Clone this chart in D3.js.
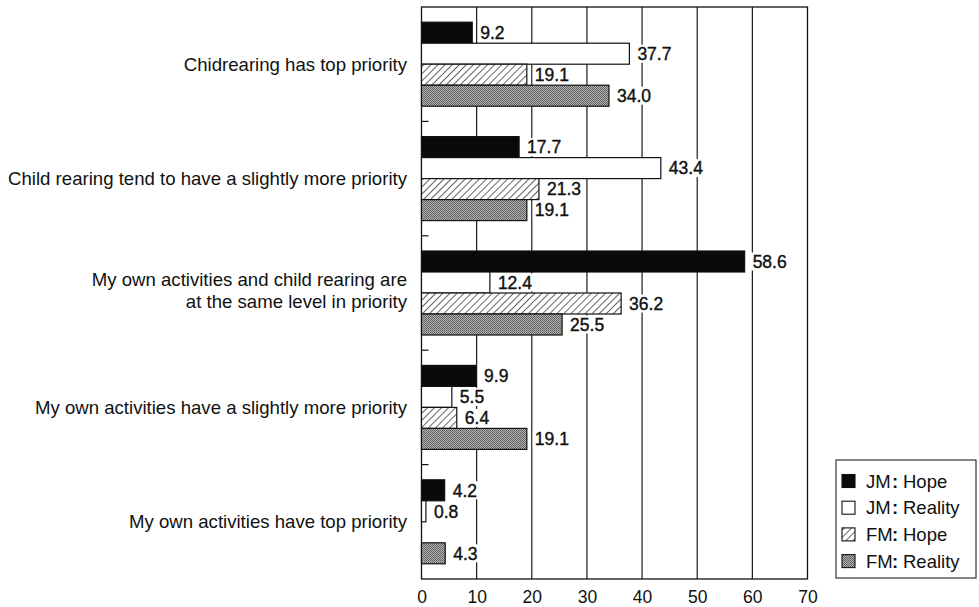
<!DOCTYPE html>
<html>
<head>
<meta charset="utf-8">
<script src="https://cdn.jsdelivr.net/npm/d3@7"></script>
<style>
  body { margin: 0; background: #fff; }
  svg { font-family: "Liberation Sans", Arial, Helvetica, sans-serif; }
</style>
</head>
<body>
<svg width="979" height="607"></svg>
<script>
// chart values
const categories = [
    "Chidrearing has top priority",
    "Child rearing tend to have a slightly more priority",
    "My own activities and child rearing are\nat the same level in priority",
    "My own activities have a slightly more priority",
    "My own activities have top priority"
];
const seriesNames = ["JM：Hope", "JM：Reality", "FM：Hope", "FM：Reality"];
const jmHope = [9.2, 17.7, 58.6, 9.9, 4.2];
const jmReality = [37.7, 43.4, 12.4, 5.5, 0.8];
const fmHope = [19.1, 21.3, 36.2, 6.4, null];
const fmReality = [34.0, 19.1, 25.5, 19.1, 4.3];
const xTicks = [0, 10, 20, 30, 40, 50, 60, 70];

const allSeries = [jmHope, jmReality, fmHope, fmReality];

function init() {
    const svg = d3.select("svg");
    drawDefs(svg);

    const x = d3.scaleLinear().domain([0, 70]).range([421.5, 807.5]);
    const y = d3.scaleBand().domain(categories).range([7, 579]).padding(0);
    const inner = d3.scaleBand().domain(seriesNames)
        .range([0, y.bandwidth()]).paddingInner(0).paddingOuter(0.724);

    drawGrid(svg, x, y);
    drawBars(svg, x, y, inner);
    drawCategoryLabels(svg, y);
    drawLegend(svg);
}

function drawDefs(svg) {
    const defs = svg.append("defs");
    const hatch = defs.append("pattern")
        .attr("id", "hatch")
        .attr("patternUnits", "userSpaceOnUse")
        .attr("width", 5).attr("height", 5)
        .attr("patternTransform", "rotate(45)");
    hatch.append("rect").attr("width", 5).attr("height", 5).attr("fill", "#fff");
    hatch.append("line")
        .attr("x1", 0).attr("y1", 0).attr("x2", 0).attr("y2", 5)
        .attr("stroke", "#111").attr("stroke-width", 1.3);

    // checker stipple for the grey bars
    const dots = defs.append("pattern")
        .attr("id", "stipple")
        .attr("patternUnits", "userSpaceOnUse")
        .attr("width", 2).attr("height", 2);
    dots.append("rect").attr("width", 2).attr("height", 2).attr("fill", "#b2b2b2");
    dots.append("rect").attr("x", 0).attr("y", 0).attr("width", 1).attr("height", 1).attr("fill", "#5a5a5a");
    dots.append("rect").attr("x", 1).attr("y", 1).attr("width", 1).attr("height", 1).attr("fill", "#6a6a6a");
}

const fills = ["#0a0a0a", "#ffffff", "url(#hatch)", "url(#stipple)"];

function drawGrid(svg, x, y) {
    const top = y.range()[0], bottom = y.range()[1];
    svg.append("g")
        .selectAll("line").data(xTicks.slice(1, -1)).enter()
        .append("line")
        .attr("x1", d => x(d)).attr("x2", d => x(d))
        .attr("y1", top).attr("y2", bottom)
        .attr("stroke", "#1a1a1a").attr("stroke-width", 1.2);

    svg.append("rect")
        .attr("x", x(0)).attr("y", top)
        .attr("width", x(70) - x(0)).attr("height", bottom - top)
        .attr("fill", "none").attr("stroke", "#111").attr("stroke-width", 1.3);

    // small ticks between groups on the left axis
    svg.append("g")
        .selectAll("line").data(categories.slice(1)).enter()
        .append("line")
        .attr("x1", x(0)).attr("x2", x(0) + 7)
        .attr("y1", d => y(d)).attr("y2", d => y(d))
        .attr("stroke", "#111").attr("stroke-width", 1.2);

    const axis = svg.append("g")
        .attr("transform", "translate(0," + bottom + ")")
        .call(d3.axisBottom(x).tickValues(xTicks).tickSize(0).tickPadding(11.5));
    axis.select(".domain").remove();
    axis.selectAll("text")
        .attr("font-size", "17.5px")
        .attr("font-family", "\"Liberation Sans\", Arial, sans-serif")
        .attr("fill", "#111");
}

function drawBars(svg, x, y, inner) {
    const rows = [];
    categories.forEach((c, i) => {
        allSeries.forEach((s, j) => {
            if (s[i] !== null) rows.push({ cat: c, name: seriesNames[j], k: j, v: s[i] });
        });
    });

    svg.append("g")
        .selectAll("rect").data(rows).enter()
        .append("rect")
        .attr("x", x(0))
        .attr("y", d => y(d.cat) + inner(d.name))
        .attr("width", d => x(d.v) - x(0))
        .attr("height", inner.bandwidth())
        .attr("fill", d => fills[d.k])
        .attr("stroke", "#111")
        .attr("stroke-width", 1.2);

    const labels = svg.append("g");
    rows.forEach(d => {
        const g = labels.append("g");
        const bg = g.append("rect").attr("fill", "#fff");
        const t = g.append("text")
            .attr("x", x(d.v) + 8)
            .attr("y", y(d.cat) + inner(d.name) + inner.bandwidth() / 2)
            .attr("dy", "0.36em")
            .attr("font-size", "17.5px")
            .attr("fill", "#111")
            .attr("stroke", "#111")
            .attr("stroke-width", 0.4)
            .text(d.v.toFixed(1));
        const b = t.node().getBBox();
        bg.attr("x", b.x - 2).attr("y", y(d.cat) + inner(d.name) + 1.5)
            .attr("width", b.width + 4).attr("height", inner.bandwidth() - 3);
    });
}

function drawCategoryLabels(svg, y) {
    categories.forEach(c => {
        const lines = c.split("\n");
        const mid = y(c) + y.bandwidth() / 2;
        const t = svg.append("text")
            .attr("text-anchor", "end")
            .attr("font-size", "18.6px")
            .attr("fill", "#111");
        lines.forEach((ln, i) => {
            t.append("tspan")
                .attr("x", 407)
                .attr("y", mid + (i - (lines.length - 1) / 2) * 22 - (lines.length > 1 ? 2.5 : 0))
                .attr("dy", "0.36em")
                .text(ln);
        });
    });
}

function drawLegend(svg) {
    svg.append("rect")
        .attr("x", 836).attr("y", 460)
        .attr("width", 140).attr("height", 118)
        .attr("fill", "#fff").attr("stroke", "#222").attr("stroke-width", 1.1);

    seriesNames.forEach((name, i) => {
        const cy = 481 + i * 26.7;
        svg.append("rect")
            .attr("x", 842).attr("y", cy - 6.5)
            .attr("width", 13).attr("height", 13)
            .attr("fill", fills[i])
            .attr("stroke", "#111").attr("stroke-width", 1.1);
        const parts = name.split("：");
        const t = svg.append("text")
            .attr("y", cy).attr("dy", "0.36em")
            .attr("font-size", "18.5px")
            .attr("fill", "#111");
        t.append("tspan").attr("x", 866).text(parts[0]);
        t.append("tspan").attr("x", 892).attr("font-weight", "bold").text(":");
        t.append("tspan").attr("x", 903).text(parts[1]);
    });
}

init();
</script>
</body>
</html>
